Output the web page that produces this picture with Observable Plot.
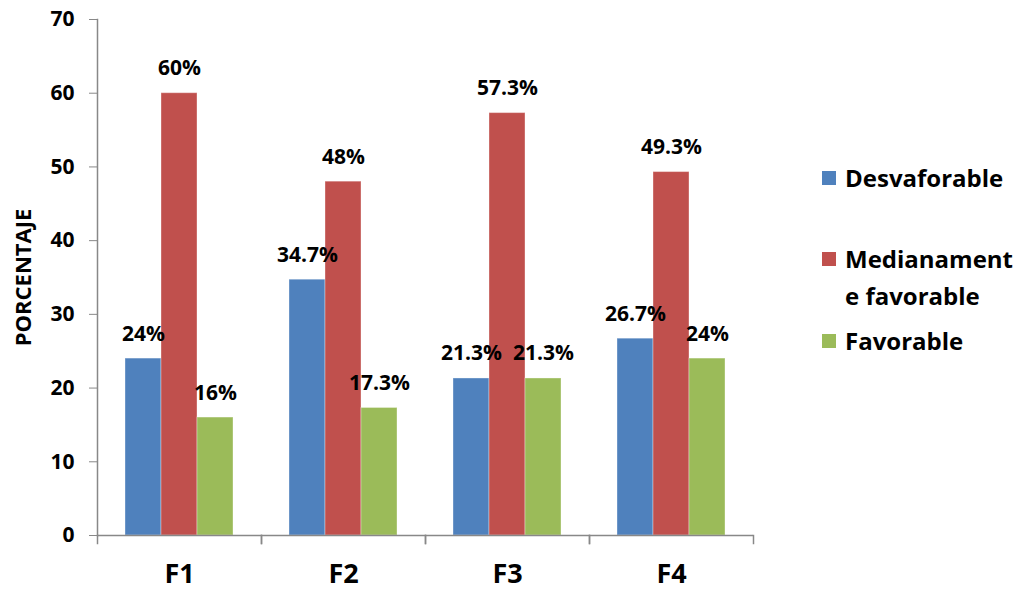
<!DOCTYPE html>
<html>
<head>
<meta charset="utf-8">
<script src="https://cdn.jsdelivr.net/npm/d3@7"></script>
<script src="https://cdn.jsdelivr.net/npm/@observablehq/plot@0.6"></script>
<style>
  html, body { margin: 0; padding: 0; background: #fff; }
  #wrap { position: relative; width: 1025px; height: 591px; font-family: "Open Sans", sans-serif; font-weight: bold; }
  #legend { position: absolute; left: 822px; top: 0; }
  .item { position: absolute; left: 0; display: flex; align-items: flex-start; white-space: pre-line; font-size: 24px; line-height: 37px; color: #000; width: 200px; }
  .sw { width: 14px; height: 14px; margin-right: 9px; margin-top: 12px; flex: none; }
</style>
</head>
<body>
<div id="wrap"><div id="chart"></div><div id="legend"></div></div>
<script>
const categories = ["F1", "F2", "F3", "F4"];
const series = ["Desvaforable", "Medianamente favorable", "Favorable"];
const legendLabels = ["Desvaforable", "Medianament\ne favorable", "Favorable"];
const colors = ["#4F81BD", "#C0504D", "#9BBB59"];
const desvaforable = [24, 34.7, 21.3, 26.7];
const medianamente = [60, 48, 57.3, 49.3];
const favorable = [16, 17.3, 21.3, 24];
const yTicks = [0, 10, 20, 30, 40, 50, 60, 70];

const seriesValues = [desvaforable, medianamente, favorable];
const table = [];
categories.forEach((c, i) => {
  series.forEach((s, j) => {
    table.push({cat: c, series: s, value: seriesValues[j][i]});
  });
});

const chart = Plot.plot({
  width: 1025,
  height: 591,
  marginLeft: 96,
  marginRight: 271,
  marginTop: 19,
  marginBottom: 56,
  style: {fontFamily: "'Open Sans', sans-serif", fontWeight: "bold", color: "#000", background: "#fff"},
  fx: {domain: categories, padding: 0, label: null},
  x: {domain: series, paddingInner: 0, paddingOuter: 0.745, axis: null},
  y: {domain: [0, 70], ticks: yTicks},
  color: {domain: series, range: colors},
  marks: [
    Plot.axisY({ticks: yTicks, tickSize: 8, tickPadding: 15, fontSize: 21, stroke: "#888", fill: "#000", label: null}),
    Plot.axisY({ticks: [], tickSize: 0, fontSize: 22, fill: "#000",
      label: "PORCENTAJE", labelAnchor: "center", labelArrow: "none", labelOffset: 82}),
    Plot.axisFx({anchor: "bottom", tickSize: 0, tickPadding: 28, fontSize: 27, fill: "#000", label: null}),
    Plot.barY(table, {fx: "cat", x: "series", y: "value", fill: "series", stroke: "#fff", strokeOpacity: 0.35, strokeWidth: 1}),
    Plot.text(table, {fx: "cat", x: "series", y: "value", text: d => d.value + "%", dy: -18, lineAnchor: "bottom", fontSize: 21, fill: "#000"}),
    Plot.ruleY([0], {stroke: "#888", strokeWidth: 1.5}),
    Plot.frame({facet: "super", anchor: "left", stroke: "#888", strokeWidth: 1.5}),
    Plot.frame({anchor: "left", insetTop: 516, insetBottom: -8, stroke: "#888", strokeWidth: 1.5}),
    Plot.frame({anchor: "right", insetTop: 516, insetBottom: -8, stroke: "#888", strokeWidth: 1.5})
  ]
});
document.getElementById("chart").appendChild(chart);

const legend = document.getElementById("legend");
const tops = [159, 240, 322];
series.forEach((s, j) => {
  const it = document.createElement("div");
  it.className = "item";
  it.style.top = tops[j] + "px";
  const sw = document.createElement("div");
  sw.className = "sw";
  sw.style.background = colors[j];
  const tx = document.createElement("div");
  tx.textContent = legendLabels[j];
  it.appendChild(sw);
  it.appendChild(tx);
  legend.appendChild(it);
});
</script>
</body>
</html>
